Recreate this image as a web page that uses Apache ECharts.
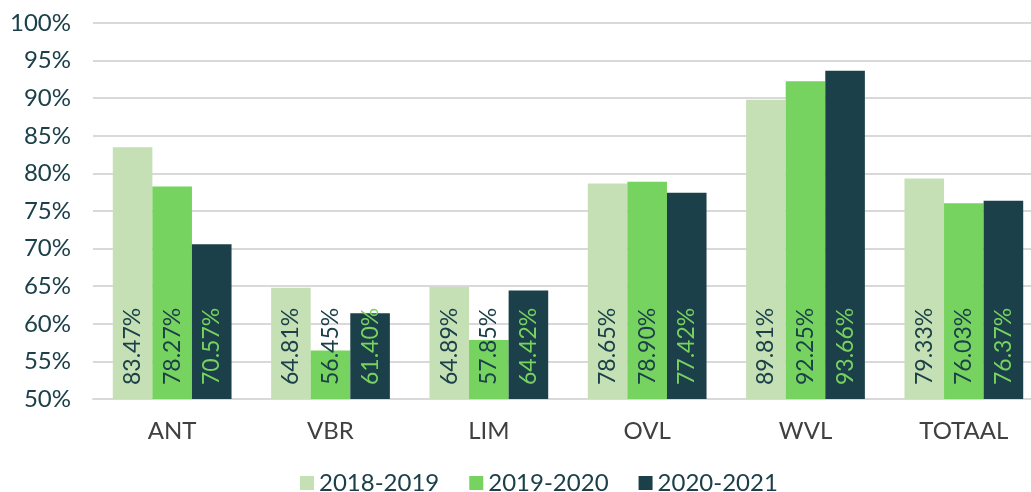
<!DOCTYPE html>
<html>
<head>
<meta charset="utf-8">
<script src="https://cdn.jsdelivr.net/npm/echarts@6/dist/echarts.min.js"></script>
<style>
  html, body { margin: 0; padding: 0; background: #fff; }
  #chart { width: 1031px; height: 492px; }
</style>
</head>
<body>
<div id="chart"></div>
<script>
const categories = ['ANT', 'VBR', 'LIM', 'OVL', 'WVL', 'TOTAAL']
const seriesNames = ['2018-2019', '2019-2020', '2020-2021']
const v1819 = [83.47, 64.81, 64.89, 78.65, 89.81, 79.33]
const v1920 = [78.27, 56.45, 57.85, 78.90, 92.25, 76.03]
const v2021 = [70.57, 61.40, 64.42, 77.42, 93.66, 76.37]

const colors = ['#c5e0b4', '#77d35f', '#1b4049']
const labelColors = ['#1b4049', '#1b4049', '#77d35f']
const font = 'Lato'

// 每个系列的柱子和竖排数值标签
function makeSeries(name, data, i) {
  return {
    name: name,
    type: 'bar',
    data: data,
    barGap: '0%',
    barCategoryGap: '25%',
    itemStyle: { color: colors[i] },
    label: {
      show: true,
      position: 'insideBottom',
      rotate: 90,
      align: 'left',
      verticalAlign: 'middle',
      distance: 14,
      fontFamily: font,
      fontSize: 23,
      color: labelColors[i],
      formatter: p => p.value.toFixed(2) + '%'
    }
  }
}

const myChart = echarts.init(document.getElementById('chart'))
myChart.setOption({
  animation: false,
  textStyle: { fontFamily: font },
  // 图表右边被裁掉一点，宽度超出画布
  grid: { left: 93, width: 950, top: 23, height: 376, outerBoundsMode: 'none' },
  legend: {
    top: 466,
    left: 295,
    itemWidth: 14,
    itemHeight: 14,
    itemGap: 30,
    icon: 'rect',
    textStyle: { fontFamily: font, fontSize: 24, color: '#1b4049' },
    data: seriesNames
  },
  xAxis: {
    type: 'category',
    data: categories,
    axisTick: { show: false },
    axisLine: { lineStyle: { color: '#d9d9d9', width: 2 } },
    axisLabel: { fontFamily: font, fontSize: 24, color: '#404040', margin: 20 }
  },
  yAxis: {
    type: 'value',
    min: 50,
    max: 100,
    interval: 5,
    axisLine: { show: false },
    axisTick: { show: false },
    splitLine: { lineStyle: { color: '#d9d9d9', width: 2 } },
    axisLabel: {
      fontFamily: font,
      fontSize: 24,
      color: '#1b4049',
      margin: 22,
      formatter: '{value}%'
    }
  },
  series: [
    makeSeries(seriesNames[0], v1819, 0),
    makeSeries(seriesNames[1], v1920, 1),
    makeSeries(seriesNames[2], v2021, 2)
  ]
})
</script>
</body>
</html>
